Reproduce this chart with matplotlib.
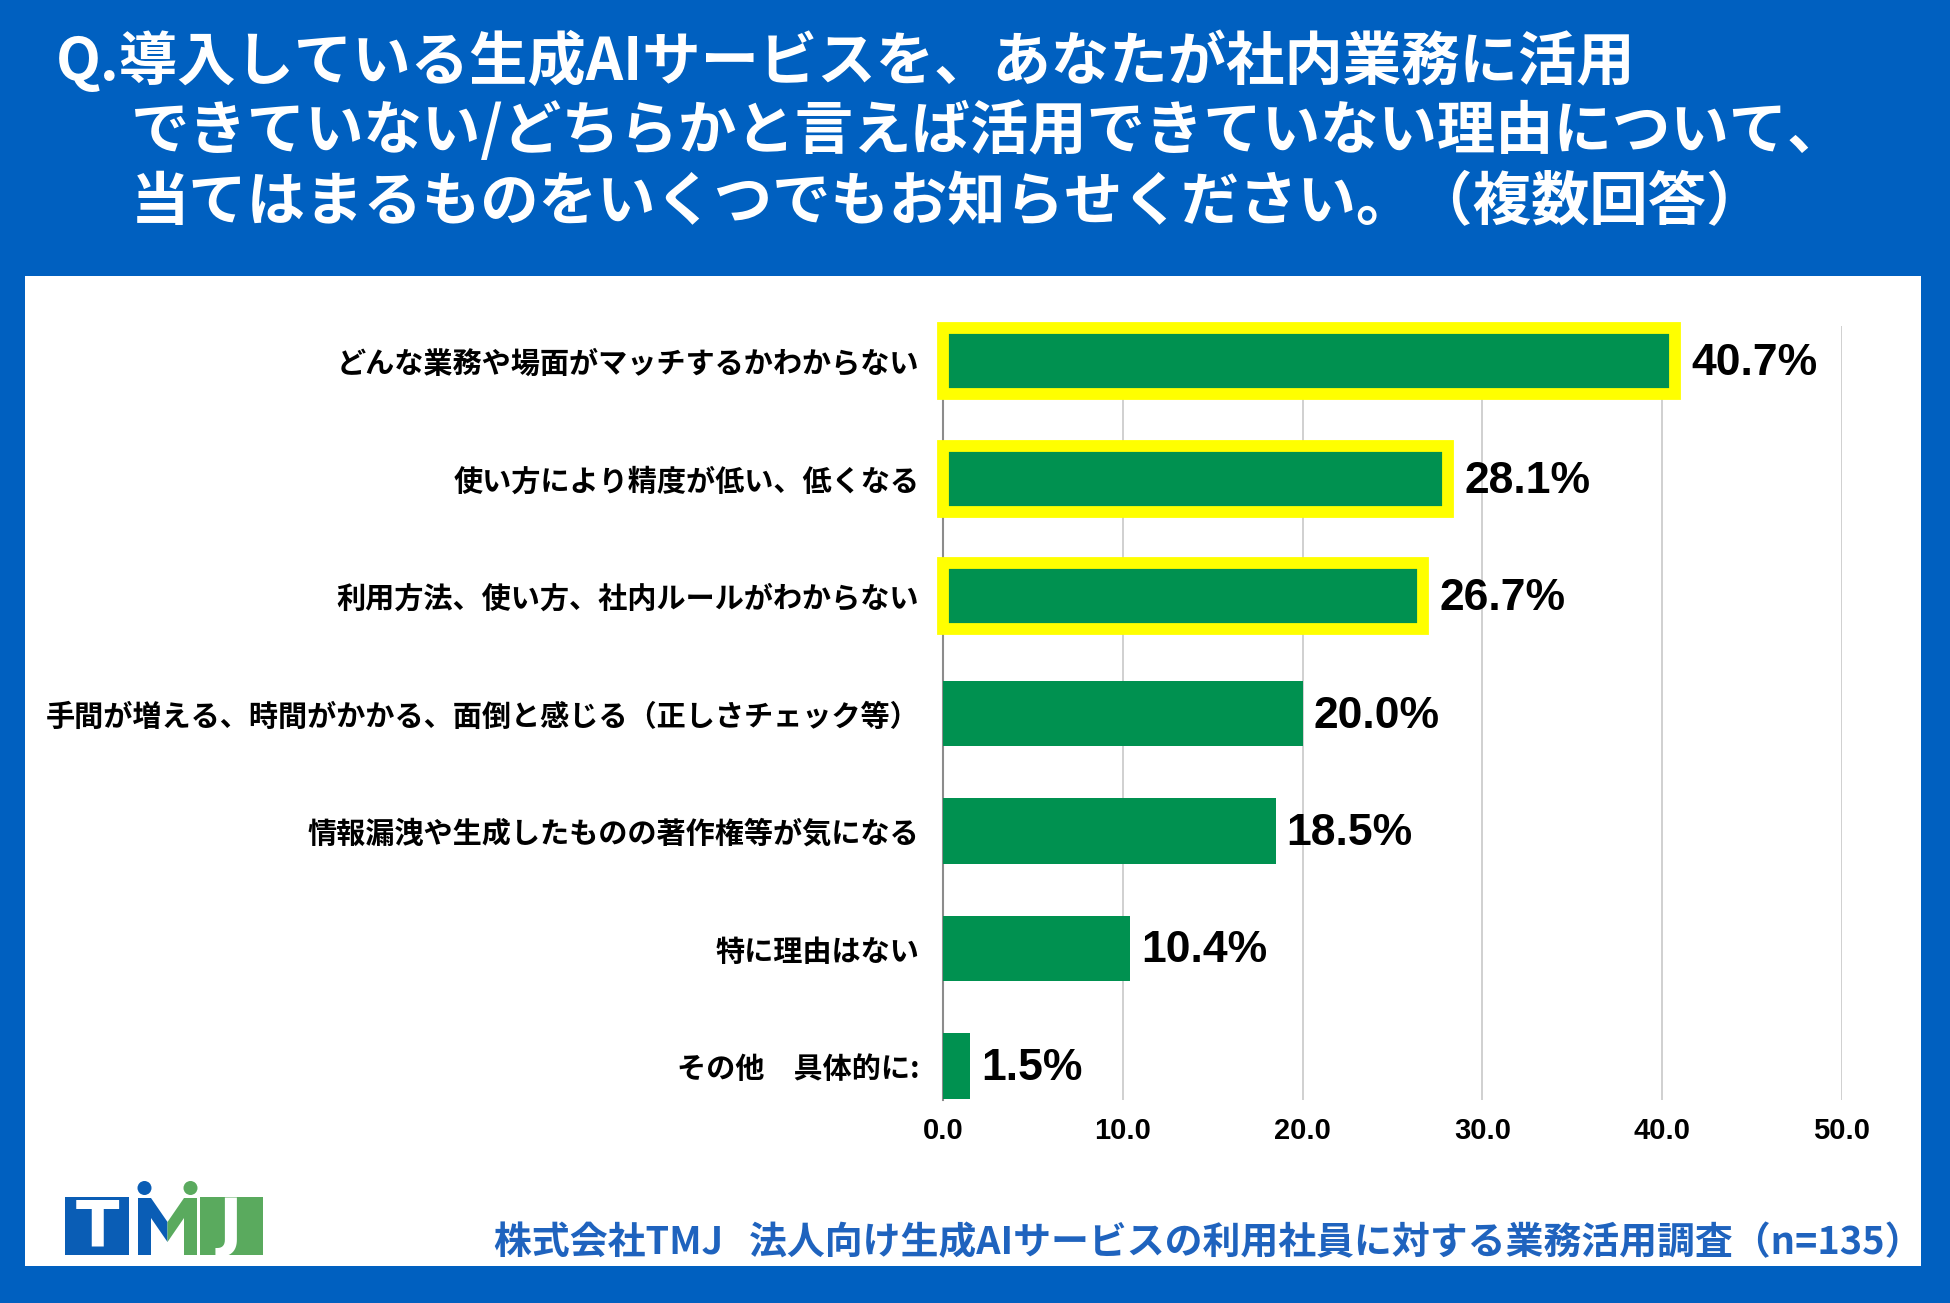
import matplotlib.pyplot as plt
from matplotlib.patches import Rectangle, Polygon, Circle

plt.rcParams['font.family'] = ['Noto Sans CJK JP', 'DejaVu Sans']

categories = [
    "どんな業務や場面がマッチするかわからない",
    "使い方により精度が低い、低くなる",
    "利用方法、使い方、社内ルールがわからない",
    "手間が増える、時間がかかる、面倒と感じる（正しさチェック等）",
    "情報漏洩や生成したものの著作権等が気になる",
    "特に理由はない",
    "その他　具体的に:",
]
values = [40.7, 28.1, 26.7, 20.0, 18.5, 10.4, 1.5]
highlight = [True, True, True, False, False, False, False]
xticks = [0, 10, 20, 30, 40, 50]

title_lines = [
    "Q.導入している生成AIサービスを、あなたが社内業務に活用",
    "できていない/どちらかと言えば活用できていない理由について、",
    "当てはまるものをいくつでもお知らせください。（複数回答）",
]
footer = "株式会社TMJ   法人向け生成AIサービスの利用社員に対する業務活用調査（n=135）"

BLUE = "#0060C0"
GREEN = "#009150"
YELLOW = "#FFFF00"
W, H = 1950, 1303

fig = plt.figure(figsize=(W / 100, H / 100), dpi=100)
fig.patch.set_facecolor(BLUE)

# background layer in pixel coords
bg = fig.add_axes([0, 0, 1, 1])
bg.set_xlim(0, W)
bg.set_ylim(H, 0)
bg.axis("off")
bg.add_patch(Rectangle((25, 276), 1896, 990, facecolor="white", edgecolor="none"))

bg.text(56, 62, title_lines[0], color="white", fontsize=42, fontweight="bold", va="center")
bg.text(131, 132, title_lines[1], color="white", fontsize=42, fontweight="bold", va="center")
bg.text(131, 202, title_lines[2], color="white", fontsize=42, fontweight="bold", va="center")

bg.text(1922, 1243, footer, color="#1F63BE", fontsize=27.3, fontweight="bold",
        ha="right", va="center")

# TMJ logo
lb, lg = "#0A5DB5", "#5AAA5E"
bg.add_patch(Rectangle((65, 1197), 64, 58, facecolor=lb, edgecolor="none"))
bg.text(97, 1228, "T", color="white", fontsize=46, fontweight="bold",
        family="DejaVu Sans", ha="center", va="center")
bg.add_patch(Polygon([(138, 1255), (138, 1198), (151, 1198), (167.5, 1222),
                      (167.5, 1242), (151, 1218), (151, 1255)], facecolor=lb, edgecolor="none"))
bg.add_patch(Polygon([(197, 1255), (197, 1198), (184, 1198), (167.5, 1222),
                      (167.5, 1242), (184, 1218), (184, 1255)], facecolor=lg, edgecolor="none"))
bg.add_patch(Circle((144.5, 1188), 7, facecolor=lb, edgecolor="none"))
bg.add_patch(Circle((190.5, 1188), 7, facecolor=lg, edgecolor="none"))
bg.add_patch(Rectangle((200, 1197), 63, 58, facecolor=lg, edgecolor="none"))
bg.text(230, 1226, "J", color="white", fontsize=46, fontweight="bold",
        family="DejaVu Sans", ha="center", va="center")

# chart
ax = fig.add_axes([943 / W, 1 - 1100 / H, 899 / W, 774 / H])
ax.set_facecolor("none")
y = list(range(len(categories)))
for i, v in enumerate(values):
    if highlight[i]:
        ax.barh(i, v, height=0.56, color=GREEN, edgecolor=YELLOW, linewidth=8.5,
                zorder=3, clip_on=False)
    else:
        ax.barh(i, v, height=0.56, color=GREEN, edgecolor="none", zorder=3)
    off = 12 if highlight[i] else 8
    ax.annotate(f"{v:.1f}%", xy=(v, i), xytext=(off, -1.8), textcoords="offset points",
                ha="left", va="center", fontsize=32, fontweight="bold",
                family="Liberation Sans", color="black", zorder=4)

ax.set_xlim(0, 50)
ax.set_ylim(6.29, -0.30)
ax.set_xticks(xticks)
ax.set_xticklabels([f"{t:.1f}" for t in xticks], fontsize=21, fontweight="bold",
                   family="Liberation Sans")
ax.set_yticks(y)
ax.set_yticklabels(categories, fontsize=21, fontweight="bold")
ax.tick_params(axis="x", length=0, pad=12)
ax.tick_params(axis="y", length=0, pad=17)
ax.grid(axis="x", color="#D0D0D0", linewidth=1.4, zorder=0)
ax.set_axisbelow(True)
for s in ["top", "right", "bottom"]:
    ax.spines[s].set_visible(False)
ax.spines["left"].set_color("#8C8C8C")
ax.spines["left"].set_linewidth(1.5)

fig.savefig("out.png", dpi=100, facecolor=BLUE)
